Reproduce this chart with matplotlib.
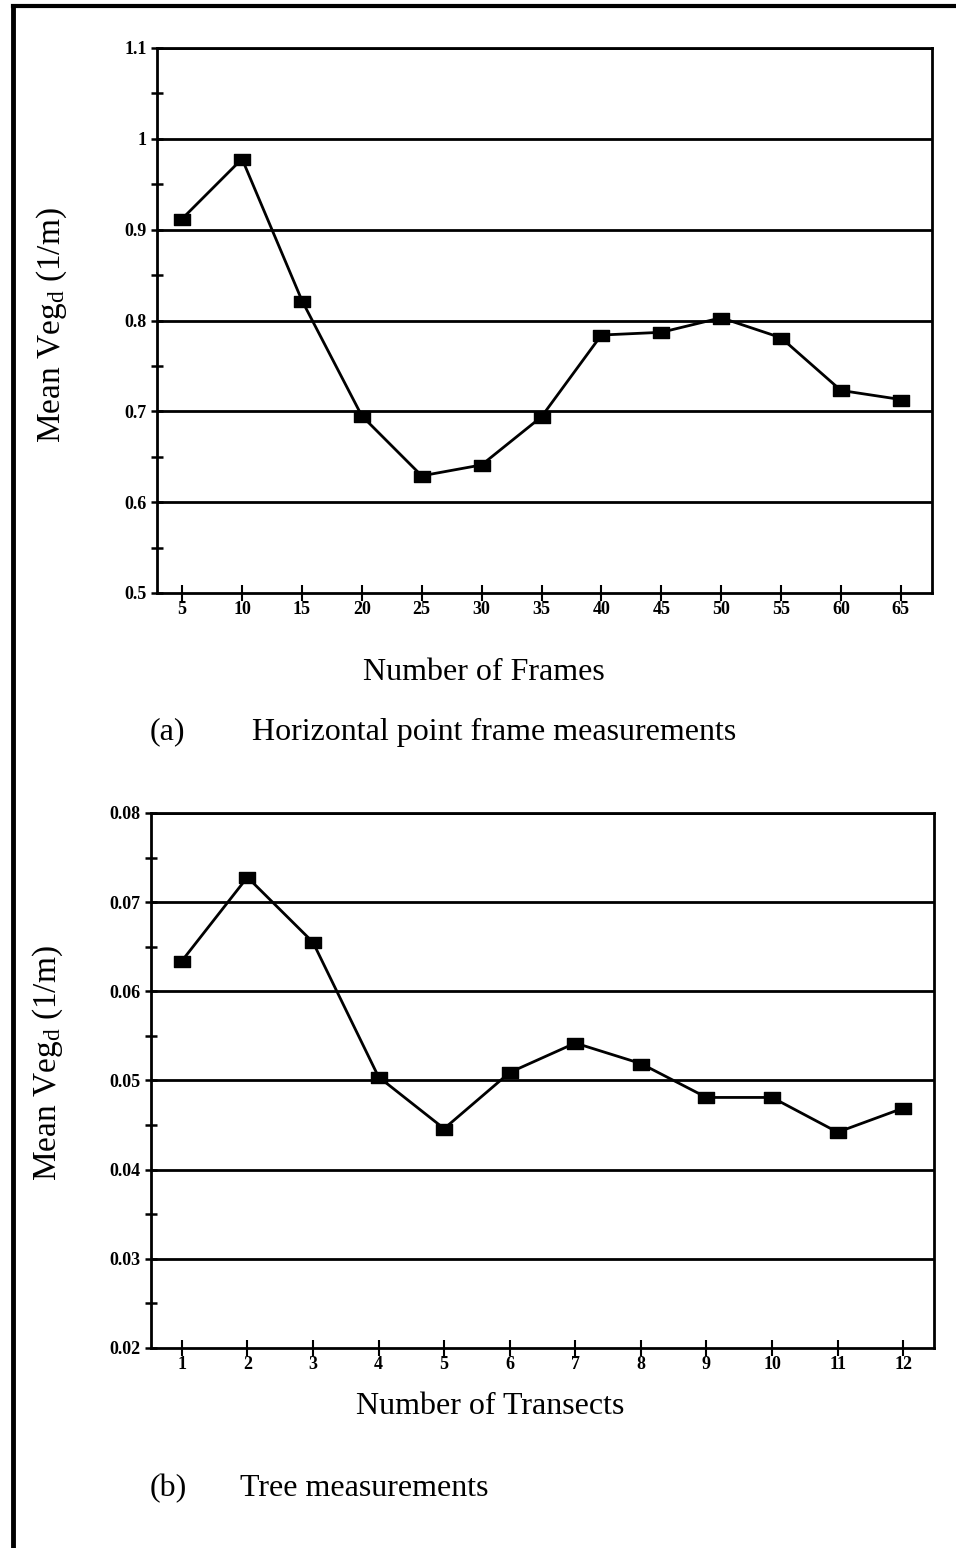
import matplotlib
matplotlib.use("Agg")
import matplotlib.pyplot as plt
from matplotlib.lines import Line2D
from matplotlib.path import Path
from matplotlib.ticker import FixedLocator

plt.rcParams["mathtext.fontset"] = "custom"
plt.rcParams["mathtext.rm"] = "Liberation Serif"
plt.rcParams["mathtext.it"] = "Liberation Serif:italic"
plt.rcParams["mathtext.bf"] = "Liberation Serif:bold"

# ---- data ----
frames = [5, 10, 15, 20, 25, 30, 35, 40, 45, 50, 55, 60, 65]
frame_veg = [0.912, 0.978, 0.822, 0.695, 0.629, 0.641, 0.694, 0.784, 0.787, 0.803, 0.781, 0.723, 0.713]
frame_yticks = [0.5, 0.6, 0.7, 0.8, 0.9, 1.0, 1.1]
frame_ylabels = ["0.5", "0.6", "0.7", "0.8", "0.9", "1", "1.1"]

transects = [1, 2, 3, 4, 5, 6, 7, 8, 9, 10, 11, 12]
transect_veg = [0.0634, 0.0728, 0.0655, 0.0504, 0.0446, 0.0509, 0.0542, 0.0519, 0.0481, 0.0481, 0.0442, 0.0469]
transect_yticks = [0.02, 0.03, 0.04, 0.05, 0.06, 0.07, 0.08]
transect_ylabels = ["0.02", "0.03", "0.04", "0.05", "0.06", "0.07", "0.08"]

W, H = 956, 1548
fig = plt.figure(figsize=(W / 100, H / 100), dpi=100)
SERIF = ["Liberation Serif", "DejaVu Serif"]

rect = Path([(-1, -0.72), (1, -0.72), (1, 0.72), (-1, 0.72), (-1, -0.72)],
            [Path.MOVETO, Path.LINETO, Path.LINETO, Path.LINETO, Path.CLOSEPOLY])


def px_ax(l, r, t, b):
    return [l / W, 1 - b / H, (r - l) / W, (b - t) / H]


def style(ax, x, y, xlim, yticks, ylabels, minor):
    ax.plot(x, y, color="black", lw=2.0, marker=rect, markersize=11,
            markerfacecolor="black", markeredgecolor="black", zorder=5, clip_on=False)
    ax.set_xlim(*xlim)
    ax.set_ylim(yticks[0], yticks[-1])
    for v in yticks[1:]:
        ax.axhline(v, color="black", lw=2.0, zorder=1)
    ax.set_yticks(yticks)
    ax.set_yticklabels(ylabels, fontfamily=SERIF, fontweight="bold", fontsize=13)
    ax.yaxis.set_minor_locator(FixedLocator(minor))
    ax.set_xticks(x)
    ax.set_xticklabels([str(v) for v in x], fontfamily=SERIF, fontweight="bold", fontsize=13)
    ax.tick_params(axis="y", which="major", direction="inout", length=9, width=1.8, pad=3)
    ax.tick_params(axis="y", which="minor", direction="inout", length=8, width=1.8)
    ax.tick_params(axis="x", which="major", direction="inout", length=12, width=1.5, pad=0)
    for s in ax.spines.values():
        s.set_linewidth(2.0)
        s.set_color("black")


ax1 = fig.add_axes(px_ax(157, 932, 48, 593))
style(ax1, frames, frame_veg, (2.9, 67.6), frame_yticks, frame_ylabels,
      [0.55, 0.65, 0.75, 0.85, 0.95, 1.05])

ax2 = fig.add_axes(px_ax(151, 934, 813, 1348))
style(ax2, transects, transect_veg, (0.53, 12.47), transect_yticks, transect_ylabels,
      [0.025, 0.035, 0.045, 0.055, 0.065, 0.075])


def ftext(x, y, s, size=23, **kw):
    fig.text(x / W, 1 - y / H, s, fontfamily=SERIF, fontsize=size, **kw)


ftext(52, 325, r"Mean Veg$_{\mathrm{d}}$ (1/m)", size=24, rotation=90, ha="center", va="center")
ftext(48, 1063, r"Mean Veg$_{\mathrm{d}}$ (1/m)", size=24, rotation=90, ha="center", va="center")
ftext(484, 672, "Number of Frames", ha="center", va="center")
ftext(150, 732, "(a)", ha="left", va="center")
ftext(252, 732, "Horizontal point frame measurements", ha="left", va="center")
ftext(490, 1407, "Number of Transects", ha="center", va="center")
ftext(150, 1489, "(b)", ha="left", va="center")
ftext(240, 1489, "Tree measurements", ha="left", va="center")

# page border (scan frame)
fig.add_artist(Line2D([13 / W, 1.0], [1 - 6 / H, 1 - 6 / H], color="black", lw=3,
                      transform=fig.transFigure))
fig.add_artist(Line2D([13 / W, 13 / W], [0.0, 1 - 6 / H], color="black", lw=3.5,
                      transform=fig.transFigure))

fig.savefig("out.png", dpi=100, facecolor="white")
